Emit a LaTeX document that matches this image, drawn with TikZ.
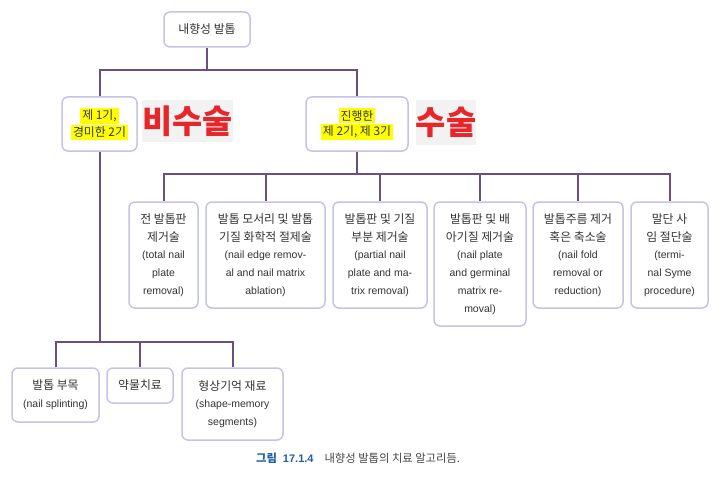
\documentclass[tikz,border=0pt]{standalone}
\usepackage{fontspec}
\setmainfont{Liberation Sans}
\newfontfamily\kr{Noto Sans CJK KR}[Scale=1.13]
\definecolor{boxborder}{HTML}{C5C3E6}
\definecolor{conncol}{HTML}{6B4F80}
\definecolor{txtcol}{HTML}{333333}
\definecolor{hlyellow}{HTML}{FFFF00}
\definecolor{redlab}{HTML}{E8262A}
\definecolor{labbg}{HTML}{F2F2F2}
\definecolor{capblue}{HTML}{1F5FA8}
\definecolor{capgray}{HTML}{444444}
\newcommand\hl[1]{{\setlength\fboxsep{2pt}\colorbox{hlyellow}{#1}}}
\tikzset{
  box/.style={draw=boxborder, line width=1.5pt, rounded corners=6pt, fill=white,
    align=center, text=txtcol, inner sep=2pt,
    font=\fontsize{10.5}{17.7}\selectfont},
  conn/.style={draw=conncol, line width=2pt},
  redlabel/.style={fill=labbg, text=redlab, inner sep=0pt,
    font=\kr\bfseries\fontsize{29}{30}\selectfont}
}
\begin{document}
\begin{tikzpicture}[x=1pt,y=-1pt]
\useasboundingbox (0,0) rectangle (721,495);
% helper coordinates for the horizontal bus lines
\coordinate (h1) at (0,70);
\coordinate (h2) at (0,174);
\coordinate (h3) at (0,342);
% top
\node[box, minimum width=86pt, minimum height=35pt] (top) at (207,29.5) {\kr 내향성 발톱};
% level 1
\node[box, minimum width=75pt, minimum height=54pt, font=\fontsize{10.5}{15.5}\selectfont] (L) at (99.5,124)
  {\kr\hl{제 1기,}\\\kr\hl{경미한 2기}};
\node[box, minimum width=102pt, minimum height=54pt, font=\fontsize{10.5}{15.5}\selectfont] (R) at (357,124)
  {\kr\hl{진행한}\\\kr\hl{제 2기, 제 3기}};
\node[redlabel, minimum width=89pt, minimum height=42pt] (nonsurg) at (187.5,121) {비수술};
\node[redlabel, minimum width=60pt, minimum height=45pt] (surg) at (446,122.5) {수술};
% level 2 (surgical)
\node[box, minimum width=69pt, minimum height=106pt] (b1) at (163.5,255)
  {\kr 전 발톱판\\\kr 제거술\\(total nail\\plate\\removal)};
\node[box, minimum width=119pt, minimum height=106pt] (b2) at (265.5,255)
  {\kr 발톱 모서리 및 발톱\\\kr 기질 화학적 절제술\\(nail edge remov-\\al and nail matrix\\ablation)};
\node[box, minimum width=94pt, minimum height=106pt] (b3) at (380,255)
  {\kr 발톱판 및 기질\\\kr 부분 제거술\\(partial nail\\plate and ma-\\trix removal)};
\node[box, minimum width=92pt, minimum height=124pt] (b4) at (480,264)
  {\kr 발톱판 및 배\\\kr 아기질 제거술\\(nail plate\\and germinal\\matrix re-\\moval)};
\node[box, minimum width=90pt, minimum height=106pt] (b5) at (578,255)
  {\kr 발톱주름 제거\\\kr 혹은 축소술\\(nail fold\\removal or\\reduction)};
\node[box, minimum width=77pt, minimum height=106pt] (b6) at (669.5,255)
  {\kr 말단 사\\\kr 임 절단술\\(termi-\\nal Syme\\procedure)};
% level 2 (non-surgical)
\node[box, minimum width=87pt, minimum height=54pt] (a) at (55.5,395)
  {\kr 발톱 부목\\(nail splinting)};
\node[box, minimum width=66pt, minimum height=35pt] (b) at (140,385.5)
  {\kr 약물치료};
\node[box, minimum width=101pt, minimum height=72pt] (c) at (232.5,404)
  {\kr 형상기억 재료\\(shape-memory\\segments)};
% caption
\node[anchor=base west, inner sep=0pt, font=\fontsize{10}{12}\selectfont] (cap) at (256,462)
  {{\kr\bfseries\color{capblue}그림}\hspace{6pt}{\fontsize{11}{12}\selectfont\bfseries\color{capblue}17.1.4}\hspace{11pt}{\kr\color{capgray}내향성 발톱의 치료 알고리듬.}};
% connectors
\draw[conn] (top.south) -- (top.south |- h1);
\draw[conn] (L.north) -- (L.north |- h1) -| (R.north);
\draw[conn] (R.south) -- (R.south |- h2);
\draw[conn] (b1.north) -- (b1.north |- h2) -| (b6.north);
\draw[conn] (b2.north) -- (b2.north |- h2);
\draw[conn] (b3.north) -- (b3.north |- h2);
\draw[conn] (b4.north) -- (b4.north |- h2);
\draw[conn] (b5.north) -- (b5.north |- h2);
\draw[conn] (L.south) -- (L.south |- h3);
\draw[conn] (a.north) -- (a.north |- h3) -| (c.north);
\draw[conn] (b.north) -- (b.north |- h3);
\end{tikzpicture}
\end{document}
